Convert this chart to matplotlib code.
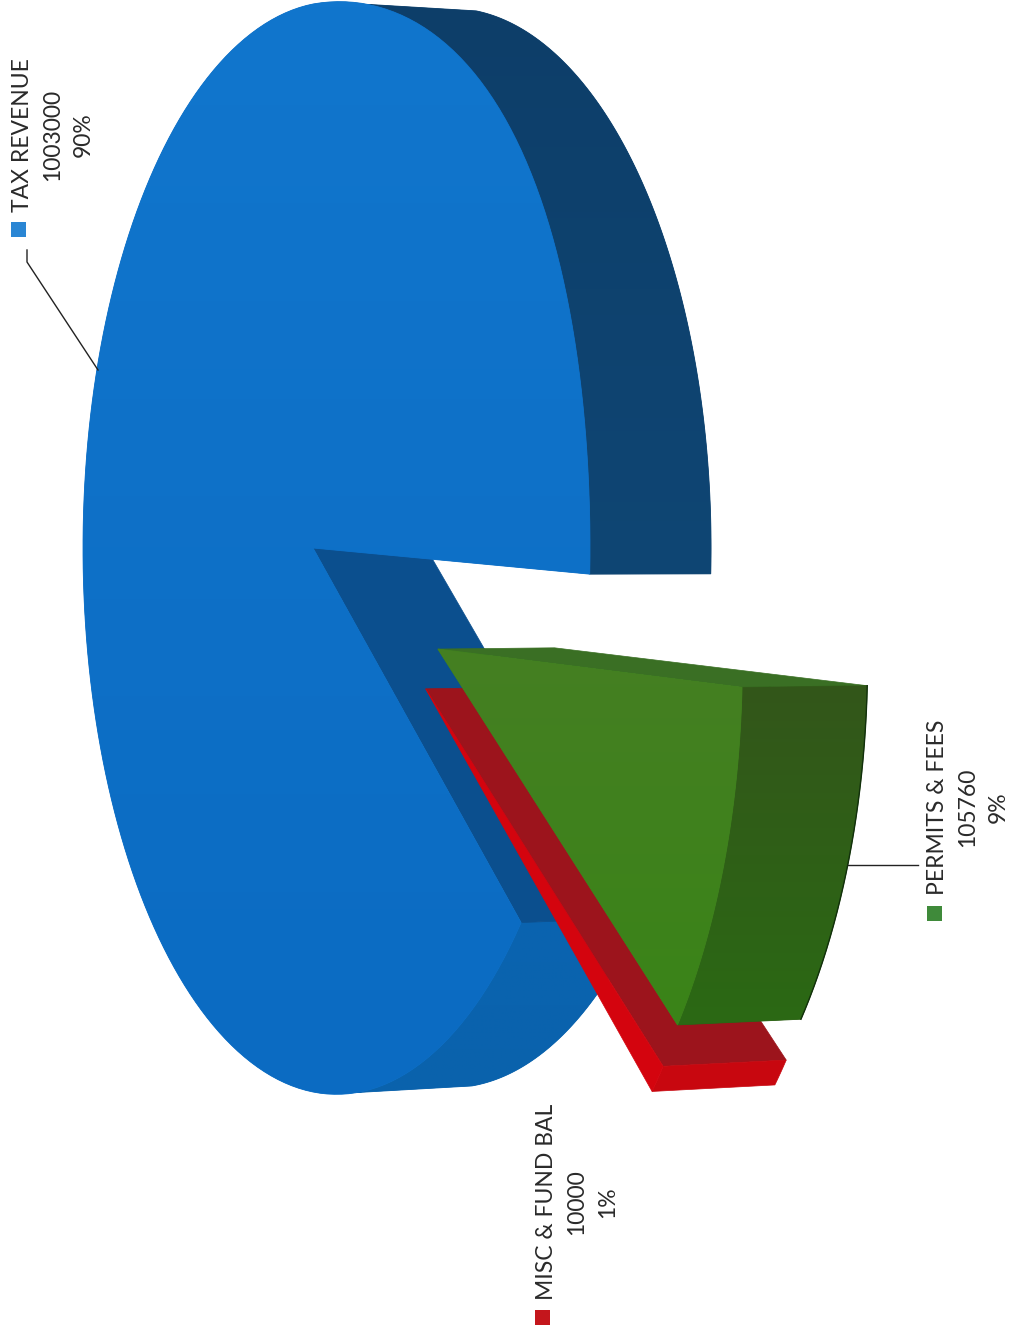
import numpy as np
import matplotlib
matplotlib.use("Agg")
import matplotlib.pyplot as plt
from matplotlib.colors import LinearSegmentedColormap
from matplotlib.patches import Polygon, Rectangle

# data
categorias = ["TAX REVENUE", "PERMITS & FEES", "MISC & FUND BAL"]
valores = [1003000, 105760, 10000]
percentuais = ["90%", "9%", "1%"]

# layout of the scanned chart, in pixels
plt.rcParams['font.family'] = ['Lato', 'DejaVu Sans']
W, H = 1013, 1331
ANGULO_INICIO = 2.5
# slice offset on the pie plane: distance, direction in degrees
EXPLODE = {"TAX REVENUE": (0, 0), "PERMITS & FEES": (0.507, 20.5), "MISC & FUND BAL": (0.497, 30)}
POS_TEXTO = {"TAX REVENUE": (53, 135), "PERMITS & FEES": (968, 807), "MISC & FUND BAL": (577, 1202)}
POS_CHAVE = {"TAX REVENUE": (18, 229), "PERMITS & FEES": (934.5, 913), "MISC & FUND BAL": (542.5, 1317.5)}
COR_CHAVE = {"TAX REVENUE": "#2a86d4", "PERMITS & FEES": "#3f8a3a", "MISC & FUND BAL": "#c4161c"}


def projeta(u, v, z=0):
    # perspective of the tilted pie, z=1 is the back of the extrusion
    u = np.asarray(u, dtype=float)
    v = np.asarray(v, dtype=float)
    w = 1 - 0.0927 * u
    x = (222.3 * u + 313 + 117.8 * z) / (w + 0.0112 * z)
    # the front rim bulges a little at the upper right in the reference
    x = x + 32 * np.clip(u, 0, None) * v ** 2 * (v < 0) * (1 - z)
    y = 548 + 544 * v / w * (1 - 0.012 * z)
    return np.column_stack([x, y])


def arco(t0, t1, off=(0, 0), z=0, n=200):
    t = np.radians(np.linspace(t0, t1, n))
    return projeta(np.cos(t) + off[0], np.sin(t) + off[1], z)


def gradiente(ax, pts, c0, c1, eixo="y", zorder=1):
    # polygon filled with a soft two colour gradient
    pts = np.asarray(pts)
    cmap = LinearSegmentedColormap.from_list("g", [c0, c1])
    rampa = np.linspace(0, 1, 256)
    img = rampa[:, None] if eixo == "y" else rampa[None, :]
    x0, x1 = pts[:, 0].min(), pts[:, 0].max()
    y0, y1 = pts[:, 1].min(), pts[:, 1].max()
    poly = Polygon(pts, closed=True, facecolor=cmap(0.5), edgecolor=cmap(0.5), lw=0.6, zorder=zorder)
    ax.add_patch(poly)
    im = ax.imshow(img, cmap=cmap, extent=(x0, x1, y1, y0), origin="upper",
                   aspect="auto", zorder=zorder, interpolation="bilinear")
    im.set_clip_path(poly)


fig = plt.figure(figsize=(W / 100, H / 100), dpi=100)
ax = fig.add_axes([0, 0, 1, 1])

# angles come from the values
frac = np.array(valores) / sum(valores)
verde_fim = ANGULO_INICIO + 360 * frac[1]
verm_fim = verde_fim + 360 * frac[2]
azul_fim = ANGULO_INICIO + 360

# blue slice: outer walls, inner wall, top face
gradiente(ax, np.vstack([arco(281, azul_fim), arco(azul_fim, 281, z=1)]), "#0d3e69", "#0f4674", zorder=1)
gradiente(ax, np.vstack([arco(verm_fim, 80), arco(80, verm_fim, z=1)]), "#0a64b0", "#0a62ac", zorder=1)
centro = projeta(0, 0)
centro_z = projeta(0, 0, 1)
t = np.radians(verm_fim)
ax.add_patch(Polygon(np.vstack([centro, centro_z, projeta(np.cos(t), np.sin(t), 1), projeta(np.cos(t), np.sin(t))]),
                     closed=True, facecolor="#0b4f8e", edgecolor="#0b4f8e", lw=0.5, zorder=2))
gradiente(ax, np.vstack([centro, arco(verm_fim, azul_fim)]), "#1176cd", "#0b6bc2", zorder=3)

# red slice
off = EXPLODE["MISC & FUND BAL"]
off = (off[0] * np.cos(np.radians(off[1])), off[0] * np.sin(np.radians(off[1])))
a = np.radians(verde_fim)
ax.add_patch(Polygon(np.vstack([projeta(off[0], off[1]), projeta(off[0], off[1], 1),
                                projeta(np.cos(a) + off[0], np.sin(a) + off[1], 1),
                                projeta(np.cos(a) + off[0], np.sin(a) + off[1])]),
                     closed=True, facecolor="#9c141c", edgecolor="#9c141c", lw=0.5, zorder=4))
ax.add_patch(Polygon(np.vstack([arco(verde_fim, verm_fim, off, n=10), arco(verm_fim, verde_fim, off, z=1, n=10)]),
                     closed=True, facecolor="#c8070f", edgecolor="#c8070f", lw=0.5, zorder=5))
ax.add_patch(Polygon(np.vstack([projeta(off[0], off[1]), arco(verde_fim, verm_fim, off, n=10)]),
                     closed=True, facecolor="#d4040e", edgecolor="#d4040e", lw=0.5, zorder=6))

# green slice
off = EXPLODE["PERMITS & FEES"]
off = (off[0] * np.cos(np.radians(off[1])), off[0] * np.sin(np.radians(off[1])))
a = np.radians(ANGULO_INICIO)
ax.add_patch(Polygon(np.vstack([projeta(off[0], off[1]), projeta(off[0], off[1], 1),
                                projeta(np.cos(a) + off[0], np.sin(a) + off[1], 1),
                                projeta(np.cos(a) + off[0], np.sin(a) + off[1])]),
                     closed=True, facecolor="#3a6f24", edgecolor="#3a6f24", lw=0.5, zorder=7))
gradiente(ax, np.vstack([arco(ANGULO_INICIO, verde_fim, off), arco(verde_fim, ANGULO_INICIO, off, z=1)]),
          "#33561a", "#2b6914", zorder=8)
ax.plot(*arco(ANGULO_INICIO, verde_fim, off, z=1).T, color="#12300c", lw=1, zorder=9)
gradiente(ax, np.vstack([projeta(off[0], off[1]), arco(ANGULO_INICIO, verde_fim, off)]),
          "#457f22", "#3a8418", zorder=10)

# leader lines
ax.plot([98, 27, 27], [370, 262, 250], color="#222222", lw=1, zorder=11)
ax.plot([848, 918], [865, 865], color="#222222", lw=1, zorder=11)

# labels and legend keys
for nome, valor, pct in zip(categorias, valores, percentuais):
    x, y = POS_TEXTO[nome]
    ax.text(x, y, f"{nome}\n{valor}\n{pct}", rotation=90, ha="center", va="center", multialignment="center",
            fontsize=16.5, color="#2a2a2a", linespacing=1.55, zorder=12)
    kx, ky = POS_CHAVE[nome]
    ax.add_patch(Rectangle((kx - 7.5, ky - 7.5), 15, 15, facecolor=COR_CHAVE[nome], edgecolor="none", zorder=12))

ax.set_xlim(0, W)
ax.set_ylim(H, 0)
ax.axis("off")
fig.savefig("out.png", dpi=100, facecolor="white")
